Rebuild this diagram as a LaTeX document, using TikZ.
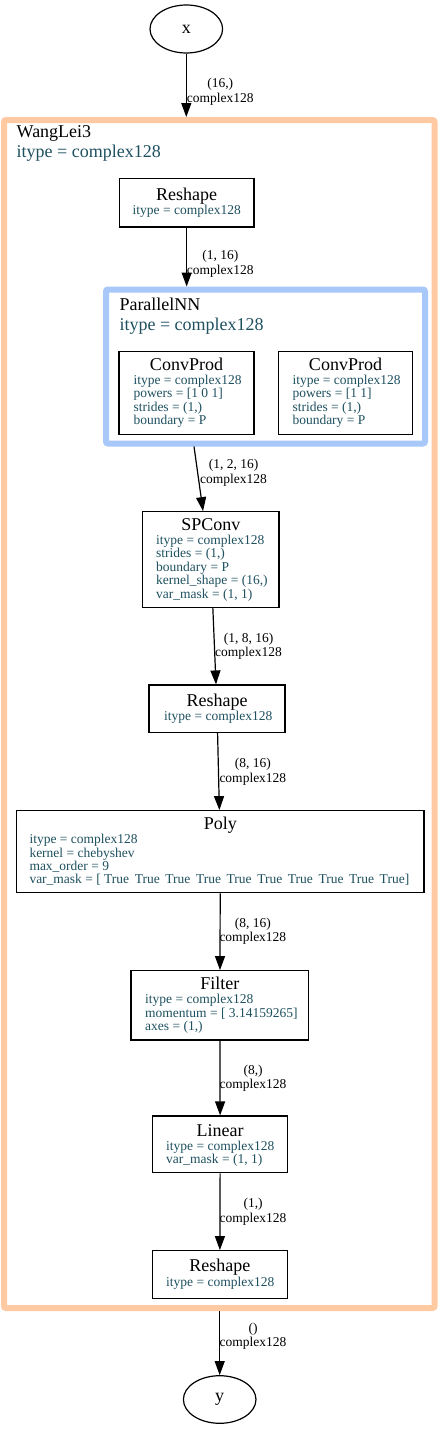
\documentclass[tikz,border=0pt]{standalone}
\usepackage{fontspec}
\setmainfont{Liberation Serif}
\usetikzlibrary{arrows.meta,shapes.geometric}

\definecolor{arancio}{HTML}{FFC9A1}
\definecolor{azzurro}{HTML}{A8C8FA}
\definecolor{ottanio}{HTML}{1E505F}

\tikzset{
  modulo/.style={draw, line width=1.2pt, inner sep=0pt},
  gruppo/.style={draw, line width=6pt, rounded corners=2pt, inner sep=0pt},
  titolo/.style={font=\fontsize{18}{20}\selectfont, anchor=base, inner sep=0pt},
  dettaglio/.style={font=\fontsize{13.5}{14}\selectfont, text=ottanio, anchor=base west, inner sep=0pt},
  etichetta/.style={font=\fontsize{13.5}{14.5}\selectfont, align=center, anchor=west, inner sep=0pt},
  freccia/.style={line width=1.2pt, -{Triangle[length=14pt,width=10pt]}},
  terminale/.style={draw, ellipse, line width=1.2pt, inner sep=0pt, font=\fontsize{18}{20}\selectfont}
}

\begin{document}
\begin{tikzpicture}[x=1pt,y=-1pt]
    \useasboundingbox (0,0) rectangle (440,1429);
    \def\sp{\hspace{5.6pt}} % spazio doppio tra i True

    % Ingresso e uscita
    \node[terminale, minimum width=72.6pt, minimum height=48pt] (x) at (186.3,29) {x};
    \node[terminale, minimum width=72.6pt, minimum height=47.6pt] (y) at (219.7,1399.5) {y};

    % Gruppi (WangLei3 e ParallelNN)
    \node[gruppo, draw=arancio, minimum width=430.5pt, minimum height=1188pt] (wanglei) at (219.25,714) {};
    \node[titolo, anchor=base west] (wangleiNome) at (16.5,137.3) {WangLei3};
    \node[titolo, anchor=base west, text=ottanio] (wangleiTipo) at (16.5,157.3) {itype = complex128};

    \node[gruppo, draw=azzurro, minimum width=319pt, minimum height=154pt] (parallelo) at (265.5,366.5) {};
    \node[titolo, anchor=base west] (paralleloNome) at (119.3,310.7) {ParallelNN};
    \node[titolo, anchor=base west, text=ottanio] (paralleloTipo) at (119.3,330) {itype = complex128};

    % Reshape iniziale
    \node[modulo, minimum width=134.7pt, minimum height=48.5pt] (reshapeA) at (186.65,202.75) {};
    \node[titolo] (reshapeAtit) at (186.65,200) {Reshape};
    \node[dettaglio] (reshapeAdet) at (132.5,214.5) {itype = complex128};

    % I due ConvProd
    \node[modulo, minimum width=135pt, minimum height=82.6pt] (convA) at (186.5,393) {};
    \node[titolo] (convAtit) at (186.5,370.7) {ConvProd};
    \foreach \riga [count=\k from 0] in {{itype = complex128}, {powers = [1 0 1]}, {strides = (1,)}, {boundary = P}}
        \node[dettaglio] (convAdet\k) at (133.3, 384.3+13.5*\k) {\riga};

    \node[modulo, minimum width=134.4pt, minimum height=82.6pt] (convB) at (345.5,393) {};
    \node[titolo] (convBtit) at (345.5,370.7) {ConvProd};
    \foreach \riga [count=\k from 0] in {{itype = complex128}, {powers = [1 1]}, {strides = (1,)}, {boundary = P}}
        \node[dettaglio] (convBdet\k) at (292.3, 384.3+13.5*\k) {\riga};

    % SPConv
    \node[modulo, minimum width=136.3pt, minimum height=95.6pt] (spconv) at (210.85,559.5) {};
    \node[titolo] (spconvtit) at (210.85,530.7) {SPConv};
    \foreach \riga [count=\k from 0] in {{itype = complex128}, {strides = (1,)}, {boundary = P}, {kernel\_shape = (16,)}, {var\_mask = (1, 1)}}
        \node[dettaglio] (spconvdet\k) at (156, 544.3+13.5*\k) {\riga};

    % Reshape intermedio
    \node[modulo, minimum width=136pt, minimum height=47.3pt] (reshapeB) at (217,708.65) {};
    \node[titolo] (reshapeBtit) at (217,706.5) {Reshape};
    \node[dettaglio] (reshapeBdet) at (164,720.5) {itype = complex128};

    % Poly
    \node[modulo, minimum width=407.3pt, minimum height=82pt] (poly) at (220.35,851.7) {};
    \node[titolo] (polytit) at (220.35,829.5) {Poly};
    \foreach \riga [count=\k from 0] in {{itype = complex128}, {kernel = chebyshev}, {max\_order = 9},
        {var\_mask = [ True\sp True\sp True\sp True\sp True\sp True\sp True\sp True\sp True\sp True]}}
        \node[dettaglio] (polydet\k) at (29.3, 843.7+13.3*\k) {\riga};

    % Filter
    \node[modulo, minimum width=177.7pt, minimum height=69.3pt] (filtro) at (219.85,1005.35) {};
    \node[titolo] (filtrotit) at (219.85,989.3) {Filter};
    \foreach \riga [count=\k from 0] in {{itype = complex128}, {momentum = [ 3.14159265]}, {axes = (1,)}}
        \node[dettaglio] (filtrodet\k) at (145, 1003.3+13.7*\k) {\riga};

    % Linear
    \node[modulo, minimum width=135pt, minimum height=56.7pt] (lineare) at (220.2,1144.35) {};
    \node[titolo] (linearetit) at (220.2,1136.7) {Linear};
    \foreach \riga [count=\k from 0] in {{itype = complex128}, {var\_mask = (1, 1)}}
        \node[dettaglio] (linearedet\k) at (166, 1150+13.4*\k) {\riga};

    % Reshape finale
    \node[modulo, minimum width=135pt, minimum height=47.6pt] (reshapeC) at (219.8,1274.5) {};
    \node[titolo] (reshapeCtit) at (219.8,1271.7) {Reshape};
    \node[dettaglio] (reshapeCdet) at (166,1286.7) {itype = complex128};

    % Frecce
    \draw[freccia] (x) -- (x |- wanglei.north);
    \draw[freccia] (reshapeA) -- (reshapeA |- parallelo.north);
    \draw[freccia] ([xshift=-71.5pt]parallelo.south) -- ([xshift=-7.8pt]spconv.north);
    \draw[freccia] (spconv) -- (reshapeB);
    \draw[freccia] (reshapeB) -- (poly);
    \draw[freccia] (poly) -- (filtro);
    \draw[freccia] (filtro) -- (lineare);
    \draw[freccia] (lineare) -- (reshapeC);
    \draw[freccia] (y |- wanglei.south) -- (y);

    % Etichette delle frecce (forma e tipo)
    \foreach \px/\py/\forma [count=\k] in {186.7/92/{(16,)}, 186.7/264/{(1, 16)}, 200/472.5/{(1, 2, 16)},
        215/646/{(1, 8, 16)}, 219.3/771.5/{(8, 16)}, 219.3/931/{(8, 16)}, 219.5/1078/{(8,)},
        219.5/1211.7/{(1,)}, 219.5/1336/{()}}
        \node[etichetta] (etichetta\k) at (\px,\py) {\forma\\complex128};
\end{tikzpicture}
\end{document}
